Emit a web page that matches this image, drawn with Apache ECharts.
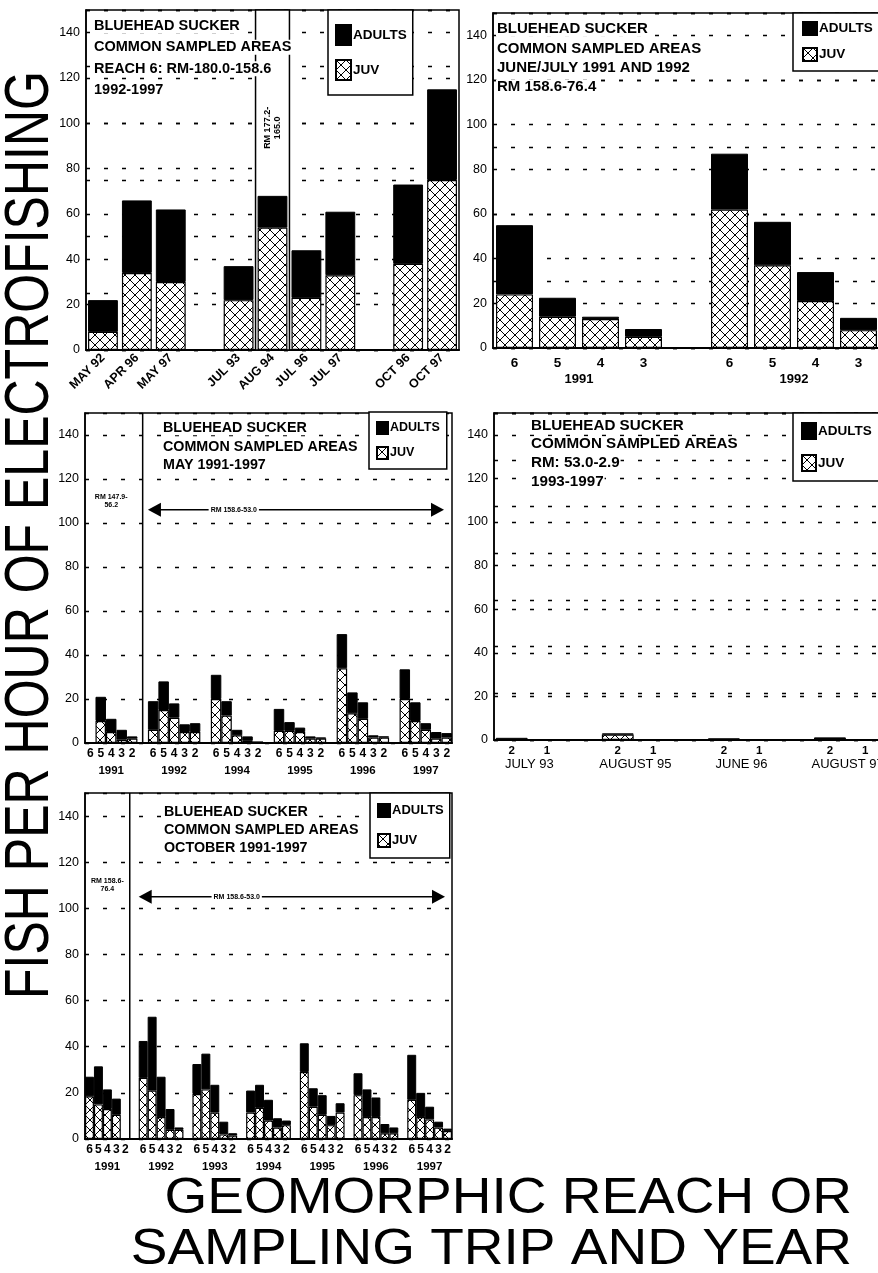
<!DOCTYPE html>
<html>
<head>
<meta charset="utf-8">
<script src="https://cdn.jsdelivr.net/npm/echarts/dist/echarts.min.js"></script>
<style>
  html, body { margin: 0; padding: 0; background: #fff; }
  #chart { width: 878px; height: 1273px; }
</style>
</head>
<body>
<div id="chart"></div>
<script>
const FONT = '"Liberation Sans", Arial, Helvetica, sans-serif';

// Reach 6 (RM 180.0-158.6), 1992-1997, grouped by season
const reach6Trips  = [['MAY 92', 'APR 96', 'MAY 97'], ['JUL 93', 'AUG 94', 'JUL 96', 'JUL 97'], ['OCT 96', 'OCT 97']];
const reach6Juv    = [[8, 34, 30], [22, 54, 23, 33], [38, 75]];
const reach6Adults = [[14, 32, 32], [15, 14, 21, 28], [35, 40]];

// June/July 1991 and 1992, RM 158.6-76.4, reaches 6-3
const junJulYears   = ['1991', '1992'];
const junJulReaches = ['6', '5', '4', '3'];
const junJulJuv     = [[24, 14, 13, 5], [62, 37, 21, 8]];
const junJulAdults  = [[31, 8.5, 1, 3.5], [25, 19.5, 13, 5.5]];

// May 1991-1997, reaches 6-2 (reach 6 not sampled in 1991)
const mayYears   = ['1991', '1992', '1994', '1995', '1996', '1997'];
const reaches6to2 = ['6', '5', '4', '3', '2'];
const mayJuv     = [[null, 10, 5, 1.5, 2], [6, 15, 11.5, 5, 5], [20, 12.5, 3.5, 1, 0.3], [5.5, 5.5, 5, 2, 2], [34, 13.5, 11, 2.5, 2.5], [20, 10, 6, 2, 2.5]];
const mayAdults  = [[null, 11, 6, 4.5, 1], [13, 13, 6.5, 3.5, 4], [11, 6.5, 2.5, 2, 0.2], [10, 4, 2, 1, 0.5], [15.5, 9.5, 7.5, 1, 0.5], [13.5, 8.5, 3, 3, 2]];

// RM 53.0-2.9, 1993-1997, reaches 2-1
const lowerTrips   = ['JULY 93', 'AUGUST 95', 'JUNE 96', 'AUGUST 97'];
const lowerReaches = ['2', '1'];
const lowerJuv     = [[0, 0], [2.5, 0], [0, 0], [0, 0]];
const lowerAdults  = [[1, 0.3], [0.5, 0.3], [0.8, 0.3], [1.2, 0.3]];

// October 1991-1997, reaches 6-2 (reach 2 not sampled in 1991)
const octYears  = ['1991', '1992', '1993', '1994', '1995', '1996', '1997'];
const octJuv    = [[18.5, 15, 13, 10.5, null], [26.5, 21, 9.5, 4, 4], [19.5, 21.5, 11.5, 2, 1.5], [11.5, 13.5, 8, 5, 6], [29, 14, 10.5, 6, 11.5], [19, 9.5, 9.5, 2.5, 2.5], [17, 9.5, 8.5, 5, 3.5]];
const octAdults = [[8.5, 16.5, 8.5, 7, null], [16, 32, 17.5, 9, 1], [13, 15.5, 12, 5.5, 1], [9.5, 10, 9, 4, 2], [12.5, 8, 8.5, 4, 4], [9.5, 12, 8.5, 4, 2.5], [19.5, 10.5, 5.5, 2.5, 1]];

const titleHead = ['BLUEHEAD SUCKER', 'COMMON SAMPLED AREAS'];

// cross-hatch fill for juvenile bars
function hatch(w, h) {
  const c = document.createElement('canvas');
  c.width = w; c.height = h;
  const g = c.getContext('2d');
  g.fillStyle = '#fff'; g.fillRect(0, 0, w, h);
  g.strokeStyle = '#000'; g.lineWidth = 1;
  g.beginPath();
  g.moveTo(0, 0); g.lineTo(w, h);
  g.moveTo(w, 0); g.lineTo(0, h);
  g.stroke();
  return c;
}
const juvFill = { image: hatch(10, 10), repeat: 'repeat' };

// lay groups side by side with one empty slot between groups
function flatten(groups, juvGroups, adultGroups, labelFor) {
  const cats = [], juv = [], adults = [], first = [];
  groups.forEach((labels, gi) => {
    if (gi > 0) { cats.push(''); juv.push('-'); adults.push('-'); }
    first.push(cats.length);
    labels.forEach((lab, i) => {
      cats.push(labelFor ? labelFor(lab, i, gi) : lab);
      const j = juvGroups[gi][i], a = adultGroups[gi][i];
      juv.push(j == null ? '-' : j);
      adults.push(a == null ? '-' : a);
    });
  });
  return { cats, juv, adults, first };
}

const withYear = years => (lab, i, gi) => i === 2 ? lab + '\n{y|' + years[gi] + '}' : lab;

const panels = [
  {
    d: flatten(reach6Trips, reach6Juv, reach6Adults),
    grid: { left: 86, top: 10, width: 373, height: 340 },
    gap: '12%',
    label: { fontSize: 12.5, rotate: 45, margin: 6 },
    extraGrid: 25,
    title: { left: 93, top: 15, size: 14.5, lh: 21.5, lines: titleHead.concat(['REACH 6: RM-180.0-158.6', '1992-1997']) },
    legend: { left: 328, top: 10, iw: 15, ih: 20, gap: 13, pad: [14, 6, 14, 7], fs: 13.5 }
  },
  {
    d: flatten(junJulYears.map(() => junJulReaches), junJulJuv, junJulAdults),
    grid: { left: 493, top: 13, width: 387, height: 335 },
    gap: '14%',
    label: { fontSize: 13.5, margin: 8 },
    extraGrid: 30,
    title: { left: 496, top: 19.5, size: 15, lh: 19.3, lines: titleHead.concat(['JUNE/JULY 1991 AND 1992', 'RM 158.6-76.4']) },
    legend: { left: 793, top: 13, iw: 14, ih: 13, gap: 11, pad: [8, 30, 9, 9], fs: 13.5 }
  },
  {
    d: flatten(mayYears.map(() => reaches6to2), mayJuv, mayAdults, withYear(mayYears)),
    grid: { left: 85, top: 413, width: 367, height: 330 },
    gap: '0%',
    label: { fontSize: 12, margin: 3.5, lineHeight: 15 },
    title: { left: 162, top: 419, size: 14.3, lh: 18.4, lines: titleHead.concat(['MAY 1991-1997']) },
    legend: { left: 369, top: 412, iw: 11, ih: 12, gap: 11, pad: [9, 7, 9, 7], fs: 12.5 }
  },
  {
    d: flatten(lowerTrips.map(() => lowerReaches), lowerJuv, lowerAdults),
    grid: { left: 494, top: 413, width: 389, height: 327 },
    gap: '10%',
    label: { fontSize: 11.5, margin: 5 },
    extraGrid: 21.4,
    title: { left: 530, top: 416, size: 15.2, lh: 18.7, lines: titleHead.concat(['RM: 53.0-2.9', '1993-1997']) },
    legend: { left: 793, top: 413, iw: 14, ih: 16, gap: 14, pad: [9, 30, 9, 8], fs: 13.5 }
  },
  {
    d: flatten(octYears.map(() => reaches6to2), octJuv, octAdults, withYear(octYears)),
    grid: { left: 85, top: 793, width: 367, height: 346 },
    gap: '0%',
    label: { fontSize: 12, margin: 3.5, lineHeight: 15 },
    title: { left: 163, top: 802.5, size: 14.3, lh: 18.3, lines: titleHead.concat(['OCTOBER 1991-1997']) },
    legend: { left: 370, top: 793, iw: 12, ih: 13, gap: 15, pad: [10, 6, 10, 7], fs: 13 }
  }
];

const dashed = { color: '#000', type: [4, 14], width: 1.3 };

const option = {
  animation: false,
  backgroundColor: '#fff',
  textStyle: { fontFamily: FONT, color: '#000' },
  grid: [], xAxis: [], yAxis: [], series: [], title: [], legend: []
};

panels.forEach((p, k) => {
  const cats = p.d.cats;
  option.grid.push(Object.assign({ show: true, borderColor: '#000', borderWidth: 1.5, outerBoundsMode: 'none', containLabel: false }, p.grid));
  option.xAxis.push({
    gridIndex: k, type: 'category',
    data: cats.map((_, i) => 'c' + i),
    axisLine: { lineStyle: { color: '#000', width: 2 } },
    axisTick: { show: false },
    splitLine: { show: false },
    axisLabel: {
      interval: 0, hideOverlap: false, color: '#000', fontFamily: FONT, fontWeight: 'bold',
      fontSize: p.label.fontSize, rotate: p.label.rotate || 0, margin: p.label.margin,
      lineHeight: p.label.lineHeight,
      formatter: v => cats[+v.slice(1)],
      rich: { y: { fontSize: 11.5, fontWeight: 'bold', fontFamily: FONT, color: '#000', lineHeight: 18 } }
    }
  });
  option.yAxis.push({
    gridIndex: k, type: 'value', min: 0, max: 150, interval: 20,
    axisLine: { show: true, lineStyle: { color: '#000', width: 1.5 } },
    axisTick: { show: false },
    axisLabel: { color: '#000', fontSize: 12.5, fontFamily: FONT, margin: 6, formatter: v => (v % 20 === 0 ? String(v) : '') },
    splitLine: { show: true, lineStyle: dashed }
  });
  option.series.push({
    name: 'JUV', type: 'bar', xAxisIndex: k, yAxisIndex: k, stack: 'p' + k,
    data: p.d.juv, barCategoryGap: p.gap, silent: true,
    itemStyle: { color: juvFill, borderColor: '#000', borderWidth: 1.2 }
  });
  option.series.push({
    name: 'ADULTS', type: 'bar', xAxisIndex: k, yAxisIndex: k, stack: 'p' + k,
    data: p.d.adults, barCategoryGap: p.gap, silent: true,
    itemStyle: { color: '#000', borderColor: '#000', borderWidth: 1 }
  });
  const t = p.title;
  option.title.push({
    left: t.left, top: t.top, padding: 0,
    text: t.lines.map(l => '{w|' + l + '}').join('\n'),
    textStyle: {
      fontSize: t.size, fontWeight: 'bold', lineHeight: t.lh, fontFamily: FONT, color: '#000',
      rich: { w: { fontSize: t.size, fontWeight: 'bold', lineHeight: t.lh, fontFamily: FONT, color: '#000', backgroundColor: '#fff', padding: [0, 1] } }
    }
  });
  const L = p.legend;
  option.legend.push({
    left: L.left, top: L.top, orient: 'vertical', icon: 'rect',
    itemWidth: L.iw, itemHeight: L.ih, itemGap: L.gap, padding: L.pad,
    borderColor: '#000', borderWidth: 1.5, backgroundColor: '#fff', borderRadius: 0,
    selectedMode: false,
    textStyle: { fontSize: L.fs, fontWeight: 'bold', color: '#000', fontFamily: FONT, padding: [0, 0, 0, -3] },
    data: ['ADULTS', 'JUV']
  });
});

// secondary rows of dashed grid lines
panels.forEach((p, k) => {
  if (!p.extraGrid) return;
  option.yAxis.push({
    gridIndex: k, type: 'value', min: 0, max: 150, interval: p.extraGrid, position: 'left',
    axisLine: { show: false }, axisTick: { show: false }, axisLabel: { show: false },
    splitLine: { show: true, lineStyle: dashed }
  });
});

const chart = echarts.init(document.getElementById('chart'), null, { renderer: 'canvas' });
chart.setOption(option);

function P(k, x, y) { return chart.convertToPixel({ xAxisIndex: k, yAxisIndex: k }, [x, y]); }
function band(k) { return P(k, 1, 0)[0] - P(k, 0, 0)[0]; }

function txt(x, y, text, o) {
  return {
    type: 'text', x, y, z: 20,
    style: Object.assign({ text, fill: '#000', fontFamily: FONT, align: 'center', verticalAlign: 'middle' }, o || {})
  };
}
function vline(x, y0, y1) {
  return { type: 'line', z: 6, shape: { x1: x, y1: y0, x2: x, y2: y1 }, style: { stroke: '#000', lineWidth: 1.5 } };
}
function arrow(x0, x1, y) {
  return [
    { type: 'line', z: 6, shape: { x1: x0 + 8, y1: y, x2: x1 - 8, y2: y }, style: { stroke: '#000', lineWidth: 1.5 } },
    { type: 'polygon', z: 6, shape: { points: [[x0, y], [x0 + 13, y - 7], [x0 + 13, y + 7]] }, style: { fill: '#000' } },
    { type: 'polygon', z: 6, shape: { points: [[x1, y], [x1 - 13, y - 7], [x1 - 13, y + 7]] }, style: { fill: '#000' } }
  ];
}

const els = [];

// Reach 6 panel: AUG 94 column sampled over RM 177.2-165.0
{
  const k = 0, bw = band(k), idx = panels[0].d.cats.indexOf('AUG 94');
  const cx = P(k, idx, 0)[0], top = P(k, idx, 150)[1], base = P(k, idx, 0)[1];
  els.push({ type: 'rect', z: 1, shape: { x: cx - bw / 2, y: top, width: bw, height: base - top }, style: { fill: '#fff', stroke: '#000', lineWidth: 1.5 } });
  els.push(Object.assign(txt(cx, P(k, idx, 98)[1], 'RM 177.2-\n165.0', { fontSize: 9, fontWeight: 'bold', lineHeight: 10 }), { rotation: Math.PI / 2 }));
}

// June/July panel: year under each group
{
  const k = 1, base = P(k, 0, 0)[1];
  panels[1].d.first.forEach((f, gi) => {
    const x = (P(k, f + 1, 0)[0] + P(k, f + 2, 0)[0]) / 2;
    els.push(txt(x, base + 31, junJulYears[gi], { fontSize: 13, fontWeight: 'bold' }));
  });
}

// May panel: 1991 reach set vs. common reach set
{
  const k = 2, bw = band(k), d = panels[2].d;
  const top = P(k, 0, 150)[1], base = P(k, 0, 0)[1];
  const sepX = P(k, d.first[1] - 1, 0)[0];
  els.push(vline(sepX, top, base));
  const lx = (P(k, 0, 0)[0] + P(k, 4, 0)[0]) / 2;
  els.push(txt(lx, P(k, 0, 110)[1], 'RM 147.9-\n56.2', { fontSize: 7, fontWeight: 'bold', lineHeight: 8 }));
  const x0 = P(k, d.first[1], 0)[0] - bw / 2;
  const x1 = P(k, d.cats.length - 1, 0)[0] + bw / 2 - 8;
  const ay = P(k, 0, 106)[1];
  els.push(...arrow(x0, x1, ay));
  els.push(txt(x0 + 0.29 * (x1 - x0), ay, 'RM 158.6-53.0', { fontSize: 7, fontWeight: 'bold', backgroundColor: '#fff', padding: [1, 2] }));
}

// Lower river panel: trip name under each reach pair
{
  const k = 3, base = P(k, 0, 0)[1];
  panels[3].d.first.forEach((f, gi) => {
    const x = (P(k, f, 0)[0] + P(k, f + 1, 0)[0]) / 2;
    els.push(txt(x, base + 24, lowerTrips[gi], { fontSize: 13 }));
  });
}

// October panel: 1991 reach set vs. common reach set
{
  const k = 4, bw = band(k), d = panels[4].d;
  const top = P(k, 0, 150)[1], base = P(k, 0, 0)[1];
  const sepX = P(k, 4, 0)[0] + bw / 2;
  els.push(vline(sepX, top, base));
  const lx = (P(k, 0, 0)[0] + P(k, 4, 0)[0]) / 2;
  els.push(txt(lx, P(k, 0, 110)[1], 'RM 158.6-\n76.4', { fontSize: 7, fontWeight: 'bold', lineHeight: 8 }));
  const x0 = P(k, d.first[1], 0)[0] - bw / 2;
  const x1 = P(k, d.cats.length - 1, 0)[0] + bw / 2 - 7;
  const ay = P(k, 0, 105)[1];
  els.push(...arrow(x0, x1, ay));
  els.push(txt(x0 + 0.32 * (x1 - x0), ay, 'RM 158.6-53.0', { fontSize: 7, fontWeight: 'bold', backgroundColor: '#fff', padding: [1, 2] }));
}

// shared axis titles
els.push(Object.assign(txt(31, 535, 'FISH PER HOUR OF ELECTROFISHING', { fontSize: 50 }), { rotation: Math.PI / 2, scaleX: 1.0, scaleY: 1.25 }));
els.push(Object.assign(txt(852, 1199, 'GEOMORPHIC REACH OR', { fontSize: 55, align: 'right' }), { scaleY: 0.9 }));
els.push(Object.assign(txt(852, 1250, 'SAMPLING TRIP AND YEAR', { fontSize: 55, align: 'right' }), { scaleY: 0.9 }));

chart.setOption({ graphic: { elements: els } });
</script>
</body>
</html>
